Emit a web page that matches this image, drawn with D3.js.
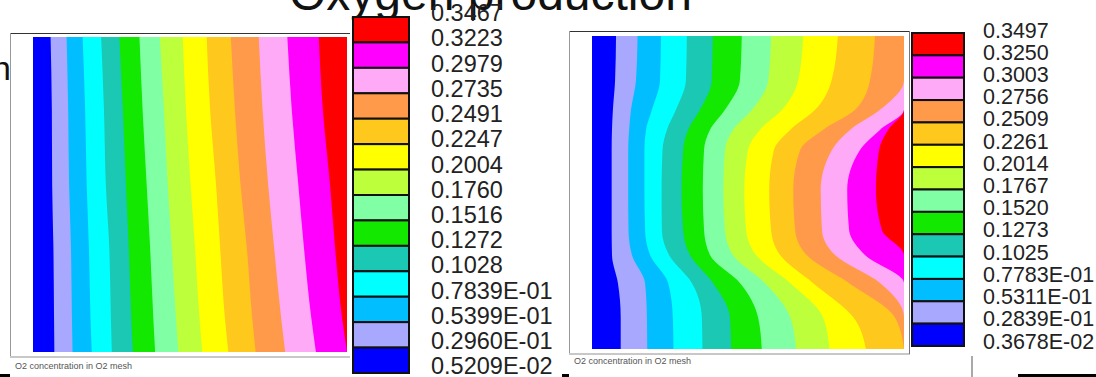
<!DOCTYPE html>
<html>
<head>
<meta charset="utf-8">
<script src="https://cdn.jsdelivr.net/npm/d3@7"></script>
<style>
  body { margin: 0; background: #fff; }
  svg { display: block; font-family: "Liberation Sans", Arial, sans-serif; }
</style>
</head>
<body>
<script>
// contour band colours, lowest level first
const bandColors = ["#0000FF", "#A8A8FF", "#00BEFF", "#00FFFF", "#1AC8B4", "#12E800", "#80FFA4",
    "#BEFF3C", "#FFFF00", "#FFC81C", "#FF9A4A", "#FFAAF6", "#FF00FF", "#FF0000"];

// legend labels, top to bottom
const leftLabels = ["0.3467", "0.3223", "0.2979", "0.2735", "0.2491", "0.2247", "0.2004", "0.1760",
    "0.1516", "0.1272", "0.1028", "0.7839E-01", "0.5399E-01", "0.2960E-01", "0.5209E-02"];
const rightLabels = ["0.3497", "0.3250", "0.3003", "0.2756", "0.2509", "0.2261", "0.2014", "0.1767",
    "0.1520", "0.1273", "0.1025", "0.7783E-01", "0.5311E-01", "0.2839E-01", "0.3678E-02"];

// sample rows, % of mesh height from the top
const leftRows = [0, 23, 47, 67, 89, 100];
// contour boundaries (x, % of mesh width) at each row, lowest level first
const leftBounds = [
    [5.6, 6.0, 6.1, 6.5, 6.7, 6.8],
    [10.7, 11.2, 11.5, 12.1, 12.4, 12.6],
    [15.8, 16.6, 17.1, 17.8, 18.3, 18.7],
    [21.7, 22.6, 23.2, 24.3, 24.8, 25.1],
    [27.5, 28.6, 29.6, 30.5, 31.3, 31.8],
    [33.9, 34.9, 36.2, 37.3, 38.3, 38.9],
    [40.4, 41.7, 42.9, 44.2, 45.5, 46.3],
    [47.7, 48.7, 50.2, 51.6, 53.0, 53.9],
    [55.3, 56.4, 58.3, 59.6, 61.1, 62.2],
    [63.0, 64.3, 66.1, 68.1, 69.8, 70.9],
    [71.9, 73.1, 74.9, 76.8, 79.0, 80.3],
    [81.0, 82.4, 84.5, 86.3, 88.6, 90.1],
    [91.0, 92.3, 94.6, 96.2, 98.4, 100]
];

const rightRows = [0, 14.1, 23.6, 30.0, 36.4, 49.2, 62.0, 70.0, 78.9, 89.8, 100];
const rightBounds = [
    [7.7, 7.4, 6.7, 6.4, 6.3, 6.3, 6.3, 6.4, 8.3, 9.2, 9.2],
    [14.6, 14.1, 12.5, 11.9, 11.6, 11.6, 11.7, 12.8, 17.0, 17.6, 17.7],
    [22.1, 21.8, 19.2, 17.3, 16.8, 16.8, 17.0, 18.6, 24.4, 25.9, 26.1],
    [30.4, 30.1, 26.9, 24.0, 22.6, 22.3, 22.4, 24.7, 32.0, 35.2, 35.4],
    [38.7, 38.4, 34.6, 30.8, 29.2, 28.7, 29.2, 31.4, 38.8, 44.2, 44.6],
    [48.0, 47.4, 42.6, 37.8, 35.9, 35.5, 35.9, 37.8, 47.4, 53.2, 54.4],
    [57.4, 56.5, 51.3, 45.2, 42.6, 42.1, 42.6, 45.2, 55.4, 63.5, 65.4],
    [67.7, 66.1, 60.9, 53.8, 50.0, 48.8, 49.4, 52.6, 63.5, 74.0, 76.1],
    [78.8, 76.8, 71.5, 63.5, 58.3, 56.8, 57.4, 60.3, 70.8, 83.7, 87.8],
    [90.7, 89.1, 84.3, 74.0, 66.7, 64.5, 65.1, 68.8, 82.3, 97.0, 100],
    [100, 100, 92.3, 82.7, 76.9, 73.3, 73.7, 77.9, 92.3, 100, 100],
    [100, 100, 100, 92.3, 85.9, 81.8, 82.4, 87.5, 100, 100, 100],
    [100, 100, 100, 94.9, 92.0, 91.0, 92.9, 100, 100, 100, 100]
];

const width = 1096;
const height = 377;

const svg = d3.select("body")
    .append("svg")
    .attr("width", width)
    .attr("height", height);

const defs = svg.append("defs");

function drawPanel(id, frame, mesh, rows, bounds, caption) {
    const g = svg.append("g");

    // window frame
    g.append("rect")
        .attr("x", frame.x0).attr("y", frame.y0)
        .attr("width", frame.x1 - frame.x0).attr("height", frame.y1 - frame.y0)
        .attr("fill", "#fff");
    g.append("line")
        .attr("x1", frame.x0).attr("x2", frame.x1).attr("y1", frame.y0 + 0.5).attr("y2", frame.y0 + 0.5)
        .attr("stroke", "#333");
    g.append("line")
        .attr("x1", frame.x0 + 0.5).attr("x2", frame.x0 + 0.5).attr("y1", frame.y0).attr("y2", frame.y1)
        .attr("stroke", "#999");
    g.append("line")
        .attr("x1", frame.x0).attr("x2", frame.x1).attr("y1", frame.y1).attr("y2", frame.y1)
        .attr("stroke", "#c8c8c8").attr("stroke-width", 2);
    if (frame.right) {
        g.append("line")
            .attr("x1", frame.x1 - 0.5).attr("x2", frame.x1 - 0.5).attr("y1", frame.y0).attr("y2", frame.y1)
            .attr("stroke", "#777");
    }

    const x = d3.scaleLinear().domain([0, 100]).range([mesh.x0, mesh.x1]);
    const y = d3.scaleLinear().domain([0, 100]).range([mesh.y0, mesh.y1]);

    defs.append("clipPath").attr("id", id)
        .append("rect")
        .attr("x", x(0)).attr("y", y(0))
        .attr("width", x(100) - x(0)).attr("height", y(100) - y(0));

    const m = g.append("g").attr("clip-path", "url(#" + id + ")");

    // lowest band fills the mesh
    m.append("rect")
        .attr("x", x(0)).attr("y", y(0))
        .attr("width", x(100) - x(0)).attr("height", y(100) - y(0))
        .attr("fill", bandColors[0]);

    // each higher band covers everything right of its boundary
    const area = d3.area()
        .curve(d3.curveMonotoneY)
        .y((d, i) => y(rows[i]))
        .x0(d => x(d))
        .x1(x(100) + 2);

    m.selectAll("path.band")
        .data(bounds)
        .join("path")
        .attr("class", "band")
        .attr("fill", (d, k) => bandColors[k + 1])
        .attr("d", area);

    g.append("text")
        .attr("x", caption.x).attr("y", caption.y)
        .attr("font-size", 9)
        .attr("fill", "#555")
        .text("O2 concentration in O2 mesh");
}

function drawLegend(box, labels, lab) {
    const n = bandColors.length;
    const yBox = d3.scaleLinear().domain([0, n]).range([box.y0, box.y1]);
    const yLab = d3.scaleLinear().domain([0, labels.length - 1]).range([lab.y0, lab.y1]);
    const top = bandColors.slice().reverse();

    svg.append("g")
        .selectAll("rect")
        .data(top)
        .join("rect")
        .attr("x", box.x0)
        .attr("y", (d, i) => yBox(i))
        .attr("width", box.x1 - box.x0)
        .attr("height", yBox(1) - yBox(0))
        .attr("fill", d => d)
        .attr("stroke", "#111")
        .attr("stroke-width", 2);

    svg.append("g")
        .selectAll("text")
        .data(labels)
        .join("text")
        .attr("x", lab.x)
        .attr("y", (d, i) => yLab(i))
        .attr("dy", "0.35em")
        .attr("font-size", lab.size)
        .attr("fill", "#222")
        .text(d => d);
}

// slide title, cut off at the top
svg.append("text")
    .attr("x", 289)
    .attr("y", 10)
    .attr("font-size", 48)
    .attr("fill", "#111")
    .text("Oxygen production");

svg.append("text")
    .attr("x", -8)
    .attr("y", 80)
    .attr("font-size", 34)
    .attr("fill", "#111")
    .text("n");

drawPanel("clipL", { x0: 10, x1: 350, y0: 33, y1: 357, right: false },
    { x0: 33, x1: 347, y0: 37, y1: 352 }, leftRows, leftBounds, { x: 15, y: 369 });
drawPanel("clipR", { x0: 569, x1: 910, y0: 31, y1: 354, right: true },
    { x0: 592, x1: 904, y0: 36, y1: 349 }, rightRows, rightBounds, { x: 574, y: 364 });

drawLegend({ x0: 353, x1: 409, y0: 17, y1: 373 }, leftLabels, { x: 431, y0: 13, y1: 366, size: 23.5 });
drawLegend({ x0: 912, x1: 964, y0: 33, y1: 346 }, rightLabels, { x: 983, y0: 30, y1: 341, size: 21.5 });

// slide fragments along the bottom edge
svg.append("rect").attr("x", 0).attr("y", 374).attr("width", 10).attr("height", 3).attr("fill", "#000");
svg.append("rect").attr("x", 562).attr("y", 374).attr("width", 7).attr("height", 3).attr("fill", "#000");
svg.append("rect").attr("x", 1018).attr("y", 374).attr("width", 78).attr("height", 3).attr("fill", "#000");
svg.append("rect").attr("x", 971).attr("y", 356).attr("width", 2).attr("height", 21).attr("fill", "#aaa");
</script>
</body>
</html>
